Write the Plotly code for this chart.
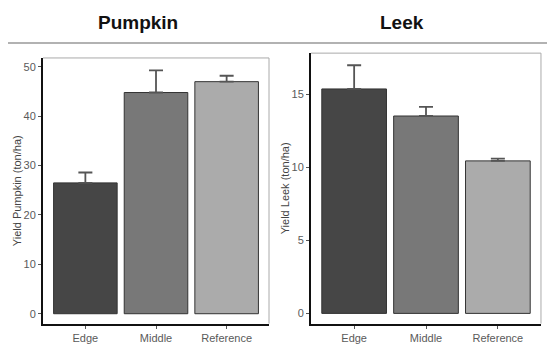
import plotly.graph_objects as go

categories = ["Edge", "Middle", "Reference"]
pumpkin_mean = [26.5, 44.8, 47.0]
pumpkin_err = [2.1, 4.5, 1.2]
leek_mean = [15.35, 13.5, 10.43]
leek_err = [1.62, 0.63, 0.16]
bar_colors = ["#464646", "#787878", "#ababab"]
pumpkin_ticks = [0, 10, 20, 30, 40, 50]
leek_ticks = [0, 5, 10, 15]

W, H = 547, 345
fig = go.Figure()

def add_panel(mean, err, xa, ya):
    fig.add_trace(go.Bar(
        x=categories, y=mean, xaxis=xa, yaxis=ya, width=0.9,
        marker=dict(color=bar_colors, line=dict(color="#333333", width=1)),
        error_y=dict(type="data", symmetric=False, array=err,
                     arrayminus=[0] * len(err), color="#555555",
                     thickness=1.8, width=7),
        showlegend=False))

add_panel(pumpkin_mean, pumpkin_err, "x", "y")
add_panel(leek_mean, leek_err, "x2", "y2")

tickfont = dict(family="Liberation Sans, Arial, sans-serif", size=11, color="#5a5a5a")
common_x = dict(range=[-0.6, 2.6], showline=True, linecolor="#111111", linewidth=2,
                ticks="outside", ticklen=3, tickcolor="#555555", tickfont=tickfont,
                showgrid=False, zeroline=False, fixedrange=True)
common_y = dict(showline=True, linecolor="#111111", linewidth=2,
                ticks="outside", ticklen=3, tickcolor="#555555", tickfont=tickfont,
                showgrid=False, zeroline=False, fixedrange=True,
                title_font=dict(family="Liberation Sans, Arial, sans-serif", size=11, color="#444444"),
                title_standoff=0)

fig.update_layout(
    width=W, height=H, margin=dict(l=0, r=0, t=0, b=0),
    paper_bgcolor="white", plot_bgcolor="white",
    bargap=0.1,
    xaxis=dict(domain=[0.0786, 0.4918], anchor="y", **common_x),
    yaxis=dict(domain=[0.062, 0.832], anchor="x", range=[-2.0, 51.8],
               tickvals=pumpkin_ticks, title_text="Yield Pumpkin (ton/ha)", **common_y),
    xaxis2=dict(domain=[0.5686, 0.989], anchor="y2", **common_x),
    yaxis2=dict(domain=[0.062, 0.846], anchor="x2", range=[-0.7, 17.8],
                tickvals=leek_ticks, title_text="Yield Leek (ton/ha)", **common_y),
)

# top/right light borders of each panel
for xr, yr in [("x domain", "y domain"), ("x2 domain", "y2 domain")]:
    fig.add_shape(type="line", xref=xr, yref=yr, x0=0, x1=1, y0=1, y1=1,
                  line=dict(color="#aaaaaa", width=1))
    fig.add_shape(type="line", xref=xr, yref=yr, x0=1, x1=1, y0=0, y1=1,
                  line=dict(color="#aaaaaa", width=1))

# separator line under titles
fig.add_shape(type="line", xref="paper", yref="paper", x0=8 / W, x1=1,
              y0=1 - 43 / H, y1=1 - 43 / H, line=dict(color="#999999", width=1.5))

titlefont = dict(family="Liberation Sans, Arial, sans-serif", size=19, color="#111111")
fig.add_annotation(text="<b>Pumpkin</b>", xref="paper", yref="paper",
                   x=137.5 / W, y=1 - 22 / H, showarrow=False, font=titlefont,
                   xanchor="center", yanchor="middle")
fig.add_annotation(text="<b>Leek</b>", xref="paper", yref="paper",
                   x=402 / W, y=1 - 22 / H, showarrow=False, font=titlefont,
                   xanchor="center", yanchor="middle")

fig.write_html("out.html", config={"displayModeBar": False},
               post_script="document.body.style.margin='0';document.body.style.overflow='hidden';")
